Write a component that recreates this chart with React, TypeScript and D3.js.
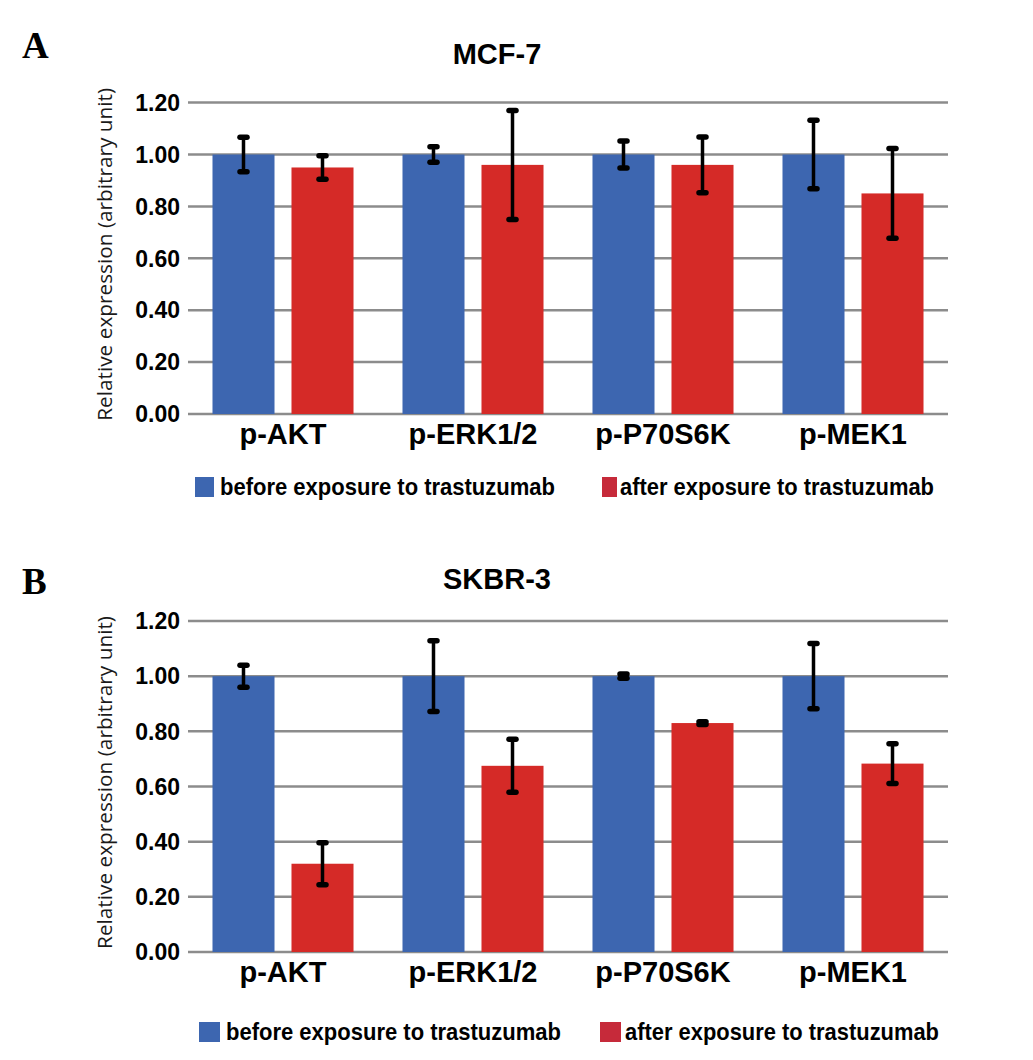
import { useEffect, useRef } from 'react';
import * as d3 from 'd3';

const categories = ['p-AKT', 'p-ERK1/2', 'p-P70S6K', 'p-MEK1'];
const seriesNames = ['before exposure to trastuzumab', 'after exposure to trastuzumab'];
const yTicks = [0, 0.2, 0.4, 0.6, 0.8, 1.0, 1.2];

// MCF-7
const mcfBefore = [1.0, 1.0, 1.0, 1.0];
const mcfBeforeErr = [0.066, 0.03, 0.052, 0.132];
const mcfAfter = [0.95, 0.96, 0.96, 0.85];
const mcfAfterErr = [0.045, 0.21, 0.107, 0.173];

// SKBR-3
const skBefore = [1.0, 1.0, 1.0, 1.0];
const skBeforeErr = [0.04, 0.128, 0.008, 0.118];
const skAfter = [0.32, 0.675, 0.83, 0.683];
const skAfterErr = [0.076, 0.096, 0.005, 0.072];

const BLUE = '#3d66b0';
const RED = '#d52a27';
const LEGEND_RED = '#c62a3a';
const SANS = '"Liberation Sans", Arial, Helvetica, sans-serif';

interface Panel {
  letter: string;
  title: string;
  before: number[];
  beforeErr: number[];
  after: number[];
  afterErr: number[];
  yTop: number;
  yBottom: number;
  letterY: number;
  titleY: number;
  legendY: number;
  legendX: [number, number];
  legendTextX: [number, number];
  legendSq: [number, number];
}

const panels: Panel[] = [
  {
    letter: 'A',
    title: 'MCF-7',
    before: mcfBefore,
    beforeErr: mcfBeforeErr,
    after: mcfAfter,
    afterErr: mcfAfterErr,
    yTop: 102.6,
    yBottom: 414,
    letterY: 58,
    titleY: 64,
    legendY: 477,
    legendX: [195, 602],
    legendTextX: [220, 620],
    legendSq: [19, 15],
  },
  {
    letter: 'B',
    title: 'SKBR-3',
    before: skBefore,
    beforeErr: skBeforeErr,
    after: skAfter,
    afterErr: skAfterErr,
    yTop: 621,
    yBottom: 952,
    letterY: 594,
    titleY: 589,
    legendY: 1022,
    legendX: [199, 600],
    legendTextX: [226, 625],
    legendSq: [21, 21],
  },
];

export default function App() {
  const svgRef = useRef<SVGSVGElement>(null);

  useEffect(() => {
    if (!svgRef.current) return;
    const svg = d3.select(svgRef.current);
    svg.selectAll('*').remove();

    const x = d3.scaleBand<string>().domain(categories).range([188, 948]);
    const sub = d3
      .scaleBand<string>()
      .domain(['before', 'after'])
      .range([0, x.bandwidth()])
      .paddingInner(0.215)
      .paddingOuter(0.31);

    panels.forEach((p) => {
      const g = svg.append('g');
      const y = d3.scaleLinear().domain([0, 1.2]).range([p.yBottom, p.yTop]);

      // panel letter and title
      g.append('text')
        .attr('x', 22)
        .attr('y', p.letterY)
        .attr('font-family', '"Liberation Serif", "Times New Roman", serif')
        .attr('font-weight', 'bold')
        .attr('font-size', 37)
        .text(p.letter);

      g.append('text')
        .attr('x', 497)
        .attr('y', p.titleY)
        .attr('text-anchor', 'middle')
        .attr('font-family', SANS)
        .attr('font-weight', 'bold')
        .attr('font-size', 29)
        .text(p.title);

      // gridlines
      g.selectAll('line.grid')
        .data(yTicks)
        .enter()
        .append('line')
        .attr('x1', 188)
        .attr('x2', 948)
        .attr('y1', (d) => y(d))
        .attr('y2', (d) => y(d))
        .attr('stroke', '#8c8c8c')
        .attr('stroke-width', 2.5);

      g.selectAll('text.ytick')
        .data(yTicks)
        .enter()
        .append('text')
        .attr('x', 180)
        .attr('y', (d) => y(d))
        .attr('dy', '0.36em')
        .attr('text-anchor', 'end')
        .attr('font-family', SANS)
        .attr('font-weight', 'bold')
        .attr('font-size', 23)
        .text((d) => d3.format('.2f')(d));

      // y title
      g.append('text')
        .attr('transform', `translate(112,${(p.yTop + p.yBottom) / 2 - 4}) rotate(-90)`)
        .attr('text-anchor', 'middle')
        .attr('font-family', '"Open Sans", "DejaVu Sans", sans-serif')
        .attr('font-size', 20.8)
        .attr('fill', '#1a1a1a')
        .text('Relative expression (arbitrary unit)');

      const rows = categories.map((c, i) => [
        { c, key: 'before', v: p.before[i], e: p.beforeErr[i], color: BLUE },
        { c, key: 'after', v: p.after[i], e: p.afterErr[i], color: RED },
      ]).flat();

      // bars
      g.selectAll('rect.bar')
        .data(rows)
        .enter()
        .append('rect')
        .attr('x', (d) => (x(d.c) || 0) + (sub(d.key) || 0))
        .attr('y', (d) => y(d.v))
        .attr('width', sub.bandwidth())
        .attr('height', (d) => y(0) - y(d.v))
        .attr('fill', (d) => d.color);

      // error bars
      const eg = g.selectAll('g.err').data(rows).enter().append('g');
      const cx = (d: { c: string; key: string }) =>
        (x(d.c) || 0) + (sub(d.key) || 0) + sub.bandwidth() / 2;
      eg.append('line')
        .attr('x1', cx)
        .attr('x2', cx)
        .attr('y1', (d) => y(d.v + d.e))
        .attr('y2', (d) => y(d.v - d.e))
        .attr('stroke', '#000')
        .attr('stroke-width', 3.5);
      [1, -1].forEach((s) => {
        eg.append('line')
          .attr('x1', (d) => cx(d) - 3.5)
          .attr('x2', (d) => cx(d) + 3.5)
          .attr('y1', (d) => y(d.v + s * d.e))
          .attr('y2', (d) => y(d.v + s * d.e))
          .attr('stroke', '#000')
          .attr('stroke-width', 5.5)
          .attr('stroke-linecap', 'round');
      });

      // category labels
      g.selectAll('text.cat')
        .data(categories)
        .enter()
        .append('text')
        .attr('x', (d) => (x(d) || 0) + x.bandwidth() / 2)
        .attr('y', p.yBottom + 30)
        .attr('text-anchor', 'middle')
        .attr('font-family', SANS)
        .attr('font-weight', 'bold')
        .attr('font-size', 29)
        .text((d) => d);

      // legend
      seriesNames.forEach((name, i) => {
        g.append('rect')
          .attr('x', p.legendX[i])
          .attr('y', p.legendY)
          .attr('width', p.legendSq[i])
          .attr('height', 20)
          .attr('fill', i === 0 ? BLUE : LEGEND_RED);
        g.append('text')
          .attr('x', p.legendTextX[i])
          .attr('y', p.legendY + 18)
          .attr('font-family', SANS)
          .attr('font-weight', 'bold')
          .attr('font-size', 24)
          .attr('textLength', i === 0 ? 335 : 314)
          .attr('lengthAdjust', 'spacingAndGlyphs')
          .text(name);
      });
    });
  }, []);

  return (
    <svg
      ref={svgRef}
      width={1033}
      height={1060}
      style={{ position: 'absolute', left: 0, top: 0, background: '#fff' }}
    />
  );
}
